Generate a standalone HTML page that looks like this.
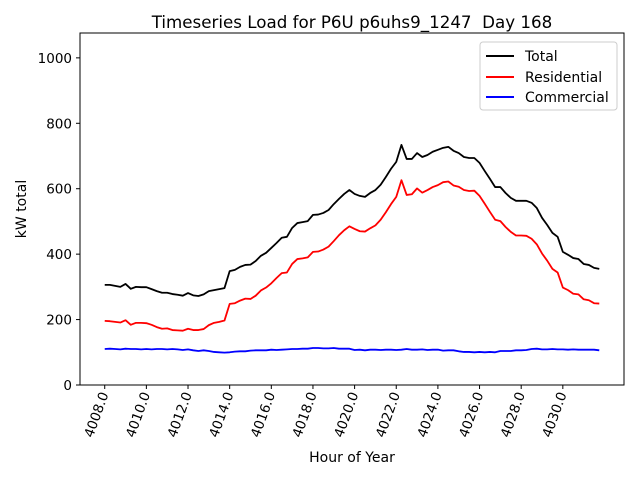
<!DOCTYPE html>
<html><head><meta charset="utf-8"><style>
body{margin:0;background:#fff;}
svg{font-family:"DejaVu Sans","Liberation Sans",sans-serif;}
</style></head><body>
<svg id="chart" width="640" height="480" xmlns="http://www.w3.org/2000/svg">
<rect width="640" height="480" fill="#fff"/>
<text x="352" y="28" text-anchor="middle" font-size="16.7">Timeseries Load for P6U p6uhs9_1247&#160; Day 168</text>
<g id="plot"></g>
<rect x="80" y="33" width="544" height="352" fill="none" stroke="#000" stroke-width="1"/>
<text x="352" y="462" text-anchor="middle" font-size="14">Hour of Year</text>
<text transform="translate(26,209) rotate(-90)" text-anchor="middle" font-size="14">kW total</text>
<g>
<rect x="480" y="42" width="137" height="68" rx="3" fill="#fff" stroke="#ccc"/>
<line x1="486" y1="56" x2="514" y2="56" stroke="#000" stroke-width="2"/>
<text x="525" y="61" font-size="14">Total</text>
<line x1="486" y1="77" x2="514" y2="77" stroke="red" stroke-width="2"/>
<text x="525" y="82" font-size="14">Residential</text>
<line x1="486" y1="97" x2="514" y2="97" stroke="blue" stroke-width="2"/>
<text x="525" y="102" font-size="14">Commercial</text>
</g>
</svg>
<script>
const startHour = 4008, stepHour = 0.25;
const xTicks = [4008,4010,4012,4014,4016,4018,4020,4022,4024,4026,4028,4030];
const yTicks = [0,200,400,600,800,1000];
const total = [306,306,303,300,309,294,300,299,299,293,287,282,282,278,276,273,281,274,272,277,287,290,293,296,348,352,361,367,368,379,395,404,419,434,450,453,480,495,498,501,520,521,526,535,553,569,584,596,584,578,575,587,596,612,636,661,682,734,691,691,709,697,703,713,719,725,728,716,709,697,694,694,679,654,630,605,605,587,572,563,563,563,557,541,511,489,465,453,407,398,388,385,370,367,358,355];
const residential = [196,195,193,191,198,184,190,190,189,184,177,172,173,168,167,166,172,168,168,171,183,190,193,197,248,250,258,264,263,273,289,298,311,327,342,344,370,385,387,390,407,408,414,423,440,458,473,485,477,470,469,479,488,505,528,553,575,626,581,583,601,588,596,605,611,620,622,610,606,596,593,594,578,554,529,505,501,483,468,457,457,456,447,430,402,380,355,344,298,290,279,277,262,259,250,249];
const commercial = [110,111,110,109,111,110,110,109,110,109,110,110,109,110,109,107,109,106,104,106,104,101,100,99,100,102,103,103,105,106,106,106,108,107,108,109,110,110,111,111,113,113,112,112,113,111,111,111,107,108,106,108,108,107,108,108,107,108,110,108,108,109,107,108,108,105,106,106,103,101,101,100,101,100,101,100,104,104,104,106,106,107,110,111,109,109,110,109,109,108,109,108,108,108,108,106];

const X0=80,X1=624,Y0=385,Y1=33;
const xmin=4006.8125,xmax=4032.9375,ymin=0,ymax=1076;
const sx=v=>X0+(v-xmin)/(xmax-xmin)*(X1-X0);
const sy=v=>Y0-(v-ymin)/(ymax-ymin)*(Y0-Y1);
const NS="http://www.w3.org/2000/svg";
const g=document.getElementById('plot');
function mk(t,a){const e=document.createElementNS(NS,t);for(const k in a)e.setAttribute(k,a[k]);g.appendChild(e);return e;}
xTicks.forEach(t=>{
  const x=sx(t);
  const l=mk('line',{x1:x,y1:Y0,x2:x,y2:Y0+4,stroke:'#000'});
  
  
  const tx=mk('text',{x:0,y:0,'font-size':13.5,'text-anchor':'end',transform:`translate(${x+4},${Y0+9}) rotate(-70)`});
  tx.textContent=t.toFixed(1);
  
  
});
yTicks.forEach(t=>{
  const y=sy(t);
  const l=mk('line',{x1:X0-4,y1:y,x2:X0,y2:y,stroke:'#000'});
  
  
  const tx=mk('text',{x:X0-8,y:y+5,'font-size':13.5,'text-anchor':'end'});
  tx.textContent=t;
  
  
});
function line(arr,color,name){
  const d=arr.map((v,i)=>(i?'L':'M')+sx(startHour+i*stepHour).toFixed(2)+','+sy(v).toFixed(2)).join('');
  const p=mk('path',{d:d,fill:'none',stroke:color,'stroke-width':1.8,'stroke-linejoin':'round'});
  
  
}
line(total,'#000','total-line');
line(residential,'red','residential-line');
line(commercial,'blue','commercial-line');
</script>
</body></html>
